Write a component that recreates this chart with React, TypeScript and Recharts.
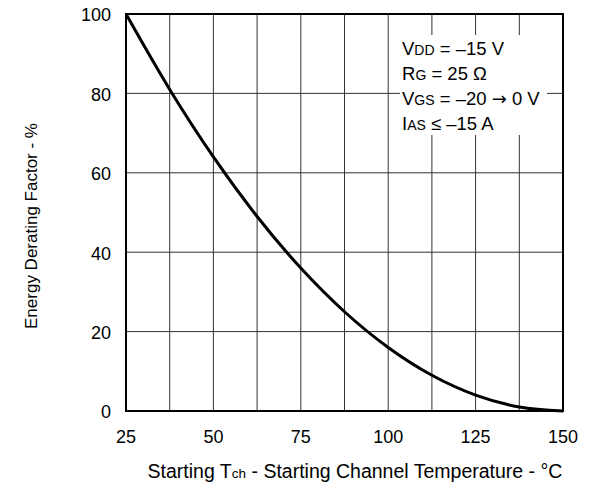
import React from "react";
import {
  LineChart,
  Line,
  XAxis,
  YAxis,
  CartesianGrid,
  ReferenceArea,
} from "recharts";

const temperatures = [25, 37.5, 50, 62.5, 75, 87.5, 100, 112.5, 125, 137.5, 150];
const deratingFactor = [100, 81, 64, 49, 36, 25, 16, 9, 4, 1, 0];
const xTicks = [25, 37.5, 50, 62.5, 75, 87.5, 100, 112.5, 125, 137.5, 150];
const xTickLabels = [25, 50, 75, 100, 125, 150];
const yTicks = [0, 20, 40, 60, 80, 100];

const conditions = [
  { main: "V", sub: "DD", rest: " = \u201315 V", arrow: "", tail: "" },
  { main: "R", sub: "G", rest: " = 25 \u03A9", arrow: "", tail: "" },
  { main: "V", sub: "GS", rest: " = \u201320 ", arrow: "\u2192", tail: " 0 V" },
  { main: "I", sub: "AS", rest: " \u2264 \u201315 A", arrow: "", tail: "" },
];

const data = temperatures.map((t, i) => ({ t, v: deratingFactor[i] }));

const FONT = "'Liberation Sans', Arial, Helvetica, sans-serif";
const W = 574;
const H = 483;
const OY = 8;

const XTick = (props: any) => {
  const { x, y, payload } = props;
  if (!xTickLabels.includes(payload.value)) return <g />;
  return (
    <text x={x} y={y} dy="0.71em" textAnchor="middle" fontSize={18} fontFamily={FONT} fill="#000">
      {payload.value}
    </text>
  );
};

const YTick = (props: any) => {
  const { x, y, payload } = props;
  return (
    <text x={x} y={y + 1} dy="0.355em" textAnchor="end" fontSize={18} fontFamily={FONT} fill="#000">
      {payload.value}
    </text>
  );
};

export default function App() {
  return (
    <div style={{ position: "relative", width: W, height: H, marginTop: -OY, fontFamily: FONT }}>
      <LineChart
        width={W}
        height={H}
        data={data}
        margin={{ top: 6 + OY, right: 19, bottom: 0, left: 0 }}
      >
        <CartesianGrid stroke="#333" strokeWidth={1} />
        <XAxis
          dataKey="t"
          type="number"
          domain={[25, 150]}
          ticks={xTicks}
          interval={0}
          height={72}
          axisLine={false}
          tickLine={false}
          tickSize={0}
          tickMargin={19}
          tick={<XTick />}
        />
        <YAxis
          type="number"
          domain={[0, 100]}
          ticks={yTicks}
          interval={0}
          width={118}
          axisLine={false}
          tickLine={false}
          tickSize={0}
          tickMargin={15}
          tick={<YTick />}
        />
        <ReferenceArea x1={25} x2={150} y1={0} y2={100} fill="none" stroke="#000" strokeWidth={2} />
        <Line
          type="monotone"
          dataKey="v"
          stroke="#000"
          strokeWidth={3}
          dot={false}
          isAnimationActive={false}
        />
      </LineChart>
      <svg
        width={W}
        height={H}
        style={{ position: "absolute", left: 0, top: 0, pointerEvents: "none" }}
      >
        <g transform={`translate(0,${OY})`}>
          <rect x={392} y={27} width={147} height={100} fill="#fff" />
          {conditions.map((c, i) => (
            <text key={i} x={394} y={47 + i * 25} fontSize={18.5} fontFamily={FONT} fill="#000">
              {c.main}
              <tspan fontSize={14}>{c.sub}</tspan>
              {c.rest}
              {c.arrow ? <tspan fontFamily="'DejaVu Sans', sans-serif" fontSize={18}>{c.arrow}</tspan> : null}
              {c.tail}
            </text>
          ))}
          <text
            x={347}
            y={470}
            textAnchor="middle"
            fontSize={19.5}
            fontFamily={FONT}
            fill="#000"
          >
            Starting T<tspan fontSize={13.5}>ch</tspan> - Starting Channel Temperature - °C
          </text>
          <text
            transform="translate(23,218) rotate(-90)"
            textAnchor="middle"
            dominantBaseline="central"
            fontSize={17}
            fontFamily={FONT}
            fill="#000"
          >
            Energy Derating Factor - %
          </text>
        </g>
      </svg>
    </div>
  );
}
